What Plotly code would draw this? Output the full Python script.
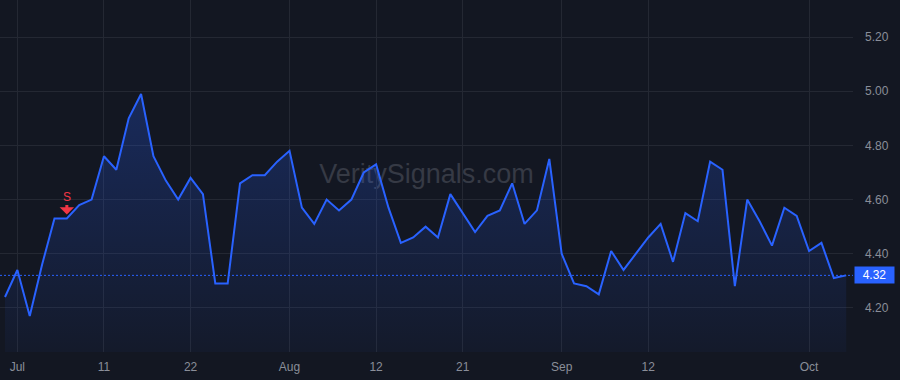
import plotly.graph_objects as go

# ---- data ----
dates = [
    "2024-06-28",
    "2024-07-01", "2024-07-02", "2024-07-03", "2024-07-05", "2024-07-08", "2024-07-09",
    "2024-07-10", "2024-07-11", "2024-07-12", "2024-07-15", "2024-07-16", "2024-07-17",
    "2024-07-18", "2024-07-19", "2024-07-22", "2024-07-23", "2024-07-24", "2024-07-25",
    "2024-07-26", "2024-07-29", "2024-07-30", "2024-07-31",
    "2024-08-01", "2024-08-02", "2024-08-05", "2024-08-06", "2024-08-07", "2024-08-08",
    "2024-08-09", "2024-08-12", "2024-08-13", "2024-08-14", "2024-08-15", "2024-08-16",
    "2024-08-19", "2024-08-20", "2024-08-21", "2024-08-22", "2024-08-23", "2024-08-26",
    "2024-08-27", "2024-08-28", "2024-08-29", "2024-08-30",
    "2024-09-03", "2024-09-04", "2024-09-05", "2024-09-06", "2024-09-09", "2024-09-10",
    "2024-09-11", "2024-09-12", "2024-09-13", "2024-09-16", "2024-09-17", "2024-09-18",
    "2024-09-19", "2024-09-20", "2024-09-23", "2024-09-24", "2024-09-25", "2024-09-26",
    "2024-09-27", "2024-09-30",
    "2024-10-01", "2024-10-02", "2024-10-03", "2024-10-04",
]
values = [
    4.24,
    4.34, 4.17, 4.36, 4.53, 4.53, 4.58, 4.60, 4.76, 4.71, 4.90, 4.99, 4.76,
    4.67, 4.60, 4.68, 4.62, 4.29, 4.29, 4.66, 4.69, 4.69, 4.74,
    4.78, 4.57, 4.51, 4.60, 4.56, 4.60, 4.70, 4.73, 4.57, 4.44, 4.46, 4.50,
    4.46, 4.62, 4.55, 4.48, 4.54, 4.56, 4.66, 4.51, 4.56, 4.75,
    4.40, 4.29, 4.28, 4.25, 4.41, 4.34, 4.40, 4.46, 4.51, 4.37, 4.55, 4.52,
    4.74, 4.71, 4.28, 4.60, 4.52, 4.43, 4.57, 4.54,
    4.41, 4.44, 4.31, 4.32,
]
tick_dates = ["2024-07-01", "2024-07-11", "2024-07-22", "2024-08-01", "2024-08-12",
              "2024-08-21", "2024-09-03", "2024-09-12", "2024-10-01"]
tick_labels = ["Jul", "11", "22", "Aug", "12", "21", "Sep", "12", "Oct"]
y_ticks = [4.20, 4.40, 4.60, 4.80, 5.00, 5.20]
signal_dates = ["2024-07-08"]
signal_labels = ["S"]
watermark = "VeritySignals.com"

# ---- style ----
BG = "#131722"
GRID = "#242833"
BLUE = "#2962ff"
RED = "#f23645"
TXT = "#8a8e99"
FONT = "Liberation Sans, Arial, sans-serif"
Y_RANGE = [4.037, 5.337]

fig = go.Figure()
fig.add_trace(go.Scatter(
    x=dates, y=values, mode="lines",
    line=dict(color=BLUE, width=2),
    fill="tozeroy",
    fillgradient=dict(type="vertical", start=Y_RANGE[0], stop=max(values),
                      colorscale=[[0, "rgba(41,98,255,0.04)"], [1, "rgba(41,98,255,0.26)"]]),
    hoverinfo="skip", showlegend=False,
))

# last value dotted line + label
last = values[-1]
fig.add_shape(type="line", xref="paper", x0=0, x1=1, yref="y", y0=last, y1=last,
              line=dict(color=BLUE, width=1, dash="2px,2px"))
fig.add_annotation(xref="paper", x=1, xanchor="left", xshift=1, yref="y", y=last,
                   text=f"{last:.2f}", showarrow=False, bgcolor=BLUE,
                   font=dict(color="#ffffff", size=12, family=FONT),
                   width=39, height=16, borderpad=0)

# watermark
fig.add_shape(type="rect", xref="paper", yref="paper", x0=0.25, x1=0.75, y0=0.45, y1=0.58,
              line=dict(width=0), fillcolor="rgba(0,0,0,0)", layer="below",
              label=dict(text=watermark, font=dict(size=27, color="#363a45", family=FONT),
                         textposition="middle center"))

# signals
for d, lab in zip(signal_dates, signal_labels):
    yv = values[dates.index(d)]
    fig.add_annotation(x=d, y=yv, text=lab, showarrow=True, arrowhead=1, arrowsize=0.8,
                       arrowwidth=3, arrowcolor=RED, ax=0, ay=-22, standoff=4,
                       font=dict(color=RED, size=12, family=FONT))

fig.update_layout(
    width=900, height=380,
    margin=dict(l=0, r=47, t=0, b=28),
    paper_bgcolor=BG, plot_bgcolor=BG,
    font=dict(family=FONT, color=TXT, size=12),
    xaxis=dict(type="category", range=[-0.404, 68.55],
               tickmode="array", tickvals=tick_dates, ticktext=tick_labels,
               showgrid=True, gridcolor=GRID, gridwidth=1, zeroline=False, showline=False,
               ticks="", tickfont=dict(color=TXT, size=12, family=FONT), ticklabelstandoff=6),
    yaxis=dict(side="right", range=Y_RANGE, tickmode="array", tickvals=y_ticks,
               ticktext=[f"{v:.2f}" for v in y_ticks],
               showgrid=True, gridcolor=GRID, gridwidth=1, zeroline=False, showline=False,
               ticks="", tickfont=dict(color=TXT, size=12, family=FONT), ticklabelstandoff=11),
    hovermode=False,
)

fig.write_html("out.html")
